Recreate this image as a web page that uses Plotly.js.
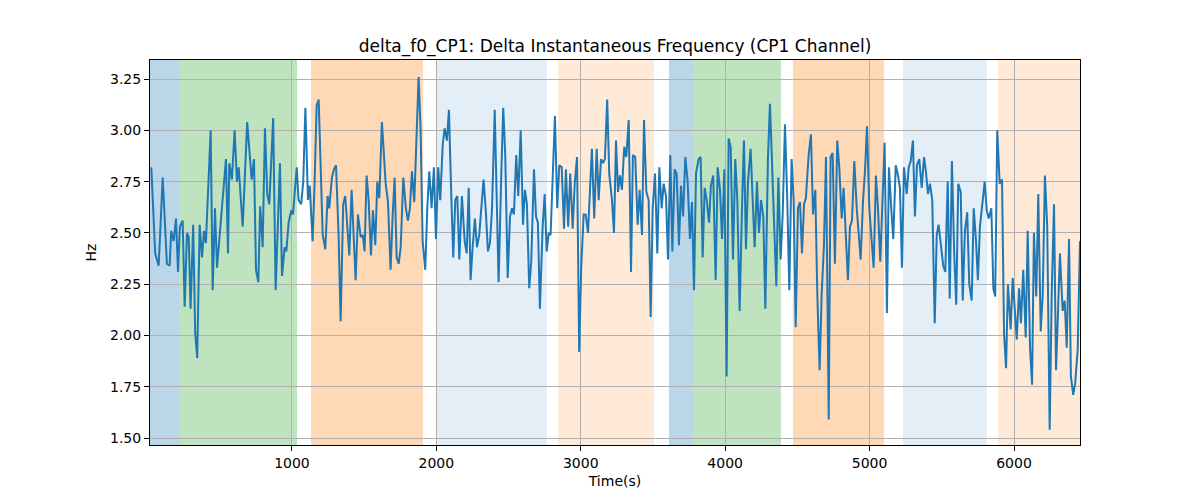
<!DOCTYPE html>
<html lang="en">
  <head>
    <meta charset="utf-8">
    <title>delta_f0_CP1</title>
    <script src="https://cdn.plot.ly/plotly-3.0.1.min.js" charset="utf-8"></script>
  </head>
  <body style="margin:0">
    <div id="plot" style="width:1200px;height:500px"></div>
    <script type="text/javascript">
      // time stamps (s)
      const times = [
        26,53,77,105,134,153,164,181,197,211,
        224,243,257,273,285,298,316,330,344,361,
        377,391,404,437,451,467,481,543,557,566,
        584,603,619,631,659,690,721,737,751,767,
        780,797,813,829,843,870,887,917,931,949,
        961,977,995,1007,1033,1046,1064,1078,1093,1111,
        1123,1143,1157,1171,1185,1213,1231,1247,1258,1277,
        1291,1305,1323,1337,1355,1369,1397,1413,1441,1457,
        1476,1490,1503,1517,1531,1547,1561,1577,1591,1605,
        1623,1637,1649,1665,1683,1697,1711,1725,1739,1753,
        1771,1789,1803,1817,1831,1847,1864,1877,1891,1905,
        1923,1937,1951,1967,1983,1997,2013,2027,2044,2057,
        2073,2087,2103,2117,2131,2145,2159,2177,2196,2210,
        2224,2237,2251,2267,2281,2297,2311,2327,2343,2357,
        2371,2385,2404,2418,2431,2449,2463,2477,2494,2510,
        2524,2537,2553,2567,2584,2600,2613,2627,2643,2657,
        2676,2690,2703,2717,2736,2750,2764,2778,2791,2805,
        2821,2837,2851,2868,2884,2897,2913,2927,2944,2958,
        2974,2989,3003,3020,3034,3050,3077,3093,3110,3124,
        3140,3154,3167,3183,3197,3216,3230,3244,3258,3271,
        3285,3301,3315,3332,3348,3361,3377,3394,3408,3424,
        3438,3454,3470,3484,3498,3514,3530,3544,3560,3574,
        3590,3604,3620,3634,3650,3664,3680,3694,3708,3724,
        3740,3756,3770,3784,3798,3816,3830,3844,3858,3872,
        3888,3901,3917,3934,3948,3964,3978,3994,4010,4024,
        4038,4054,4070,4084,4100,4116,4130,4144,4158,4176,
        4190,4204,4220,4234,4248,4264,4278,4296,4310,4324,
        4338,4354,4368,4384,4398,4414,4430,4444,4460,4474,
        4488,4504,4518,4532,4546,4559,4578,4594,4608,4624,
        4638,4654,4668,4684,4698,4717,4730,4744,4760,4776,
        4790,4807,4820,4836,4850,4864,4878,4894,4911,4938,
        4954,4968,4982,4998,5028,5044,5058,5074,5091,5104,
        5120,5134,5150,5164,5181,5197,5210,5224,5238,5257,
        5271,5285,5300,5314,5328,5344,5361,5377,5390,5404,
        5418,5434,5451,5465,5478,5494,5510,5524,5541,5555,
        5570,5586,5600,5614,5631,5645,5660,5676,5690,5707,
        5721,5737,5750,5764,5778,5797,5811,5825,5843,5857,
        5870,5884,5901,5917,5931,5945,5958,5977,5991,6005,
        6019,6035,6048,6064,6081,6095,6111,6125,6138,6154,
        6168,6185,6199,6214,6230,6247,6261,6277,6291,6304,
        6318,6337,6351,6365,6381,6394,6410,6424,6441,6457
      ];

      // delta f0 (Hz)
      const deltaF0 = [
        2.82,2.40,2.34,2.77,2.35,2.34,2.51,2.46,2.57,2.31,
        2.53,2.56,2.14,2.50,2.48,2.13,2.54,2.01,1.89,2.54,
        2.38,2.51,2.45,3.00,2.22,2.62,2.33,2.86,2.40,2.84,
        2.76,3.00,2.75,2.82,2.53,3.04,2.76,2.86,2.32,2.26,
        2.63,2.43,3.01,2.69,2.64,3.06,2.22,2.84,2.29,2.43,
        2.41,2.55,2.61,2.59,2.82,2.66,2.64,2.75,3.11,2.66,
        2.73,2.46,2.75,3.12,3.15,2.49,2.42,2.68,2.62,2.77,
        2.81,2.83,2.49,2.07,2.64,2.68,2.39,2.71,2.27,2.59,
        2.48,2.49,2.41,2.78,2.66,2.39,2.61,2.44,2.75,2.67,
        3.04,2.90,2.74,2.65,2.32,2.58,2.77,2.38,2.35,2.43,
        2.77,2.62,2.56,2.62,2.80,2.65,3.01,3.26,3.00,2.46,
        2.32,2.62,2.80,2.62,2.82,2.47,2.82,2.66,2.93,3.01,
        2.95,3.10,2.69,2.38,2.66,2.68,2.37,2.68,2.46,2.40,
        2.72,2.27,2.43,2.57,2.43,2.49,2.62,2.76,2.60,2.41,
        2.45,2.61,3.10,2.62,2.26,2.77,3.11,2.88,2.28,2.58,
        2.62,2.59,2.88,2.68,3.00,2.54,2.71,2.64,2.23,2.36,
        2.81,2.58,2.55,2.13,2.53,2.69,2.41,2.50,2.49,2.76,
        3.07,2.62,2.83,2.82,2.52,2.81,2.53,2.79,2.52,2.74,
        2.87,1.92,2.33,2.59,2.59,2.50,2.91,2.57,2.91,2.66,
        2.86,2.84,2.86,3.15,2.79,2.66,2.50,2.95,2.70,2.78,
        2.71,2.92,2.87,3.05,2.31,2.88,2.87,2.54,2.71,2.49,
        3.05,2.70,2.66,2.09,2.62,2.79,2.40,2.82,2.62,2.74,
        2.68,2.37,2.88,2.41,2.81,2.79,2.44,2.73,2.58,2.87,
        2.75,2.47,2.65,2.22,2.79,2.86,2.87,2.38,2.72,2.66,
        2.55,2.73,2.78,2.27,2.82,2.71,2.47,2.81,1.80,2.96,
        2.92,2.37,2.86,2.66,2.12,2.61,2.95,2.42,2.75,2.91,
        2.66,2.43,2.75,2.50,2.66,2.58,2.13,2.86,3.13,2.85,
        2.56,2.24,2.77,2.37,2.59,3.03,2.66,2.22,2.86,2.66,
        2.04,2.62,2.65,2.40,2.64,2.67,2.88,2.98,2.59,2.71,
        2.20,1.83,2.20,2.44,2.87,1.59,2.87,2.89,2.35,2.95,
        2.82,2.57,2.72,2.49,2.27,2.53,2.56,2.85,2.62,2.37,
        2.65,2.80,3.02,2.62,2.33,2.78,2.62,2.36,2.69,2.94,
        2.11,2.82,2.62,2.47,2.83,2.78,2.72,2.33,2.82,2.69,
        2.82,2.85,2.95,2.58,2.83,2.86,2.72,2.87,2.80,2.69,
        2.74,2.66,2.06,2.49,2.54,2.45,2.34,2.31,2.75,2.18,
        2.85,2.40,2.15,2.74,2.70,2.17,2.51,2.60,2.25,2.17,
        2.62,2.46,2.27,2.53,2.62,2.75,2.61,2.57,2.62,2.23,
        2.19,3.00,2.74,2.76,2.01,1.84,2.25,2.03,2.28,2.12,
        1.98,2.23,2.06,2.32,1.99,2.51,1.94,1.76,2.50,2.19,
        2.69,2.02,2.20,2.78,2.53,1.54,2.20,2.64,1.83,2.10,
        2.40,2.12,2.17,1.94,2.47,1.80,1.71,1.77,1.93,2.46
      ];

      // shaded segments
      const bandStart = [17, 218, 1132, 1997, 2842, 3611, 3777, 4469, 5231, 5889];
      const bandEnd   = [218, 1035, 1907, 2766, 3507, 3777, 4386, 5100, 5813, 6457];
      const bandKind  = ['blue', 'green', 'orange', 'paleBlue', 'paleOrange',
                         'blue', 'green', 'orange', 'paleBlue', 'paleOrange'];

      const yTicks = [1.50, 1.75, 2.00, 2.25, 2.50, 2.75, 3.00, 3.25];
      const xTicks = [1000, 2000, 3000, 4000, 5000, 6000];

      const FONT = 'DejaVu Sans, sans-serif';
      const fills = {
        blue: 'rgba(31,119,180,0.3)',
        green: 'rgba(44,160,44,0.3)',
        orange: 'rgba(255,127,14,0.3)',
        paleBlue: 'rgba(31,119,180,0.12)',
        paleOrange: 'rgba(255,127,14,0.16)'
      };

      let shapes = bandStart.map((s, i) => ({
        type: 'rect', layer: 'below',
        xref: 'x', yref: 'paper',
        x0: s, x1: bandEnd[i], y0: 0, y1: 1,
        fillcolor: fills[bandKind[i]],
        line: {width: 0}
      }));

      let trace = {
        x: times,
        y: deltaF0,
        type: 'scatter',
        mode: 'lines',
        line: {color: '#1f77b4', width: 2},
        hoverinfo: 'x+y'
      };

      let axisCommon = {
        showline: true, mirror: true, linecolor: 'black', linewidth: 1,
        ticks: 'outside', ticklen: 5, tickwidth: 1, tickcolor: 'black',
        showgrid: true, gridcolor: '#b0b0b0', gridwidth: 1,
        zeroline: false,
        tickfont: {family: FONT, size: 14, color: 'black'}
      };

      let layout = {
        width: 1200, height: 500,
        margin: {l: 150, r: 120, t: 60, b: 55},
        paper_bgcolor: 'white',
        plot_bgcolor: 'white',
        showlegend: false,
        font: {family: FONT, color: 'black'},
        title: {
          text: 'delta_f0_CP1: Delta Instantaneous Frequency (CP1 Channel)',
          font: {family: FONT, size: 17, color: 'black'},
          x: 0.5, xref: 'paper',
          y: 0.908, yref: 'container', yanchor: 'middle'
        },
        xaxis: Object.assign({}, axisCommon, {
          range: [17, 6457],
          tickvals: xTicks,
          ticktext: xTicks.map(String),
          title: {text: 'Time(s)', font: {family: FONT, size: 14, color: 'black'}, standoff: 6}
        }),
        yaxis: Object.assign({}, axisCommon, {
          range: [1.466, 3.343],
          tickvals: yTicks,
          ticktext: yTicks.map(v => v.toFixed(2)),
          title: {text: 'Hz', font: {family: FONT, size: 14, color: 'black'}, standoff: 10}
        }),
        shapes: shapes
      };

      Plotly.newPlot(document.getElementById('plot'), [trace], layout, {displayModeBar: false, staticPlot: true});
    </script>
  </body>
</html>
